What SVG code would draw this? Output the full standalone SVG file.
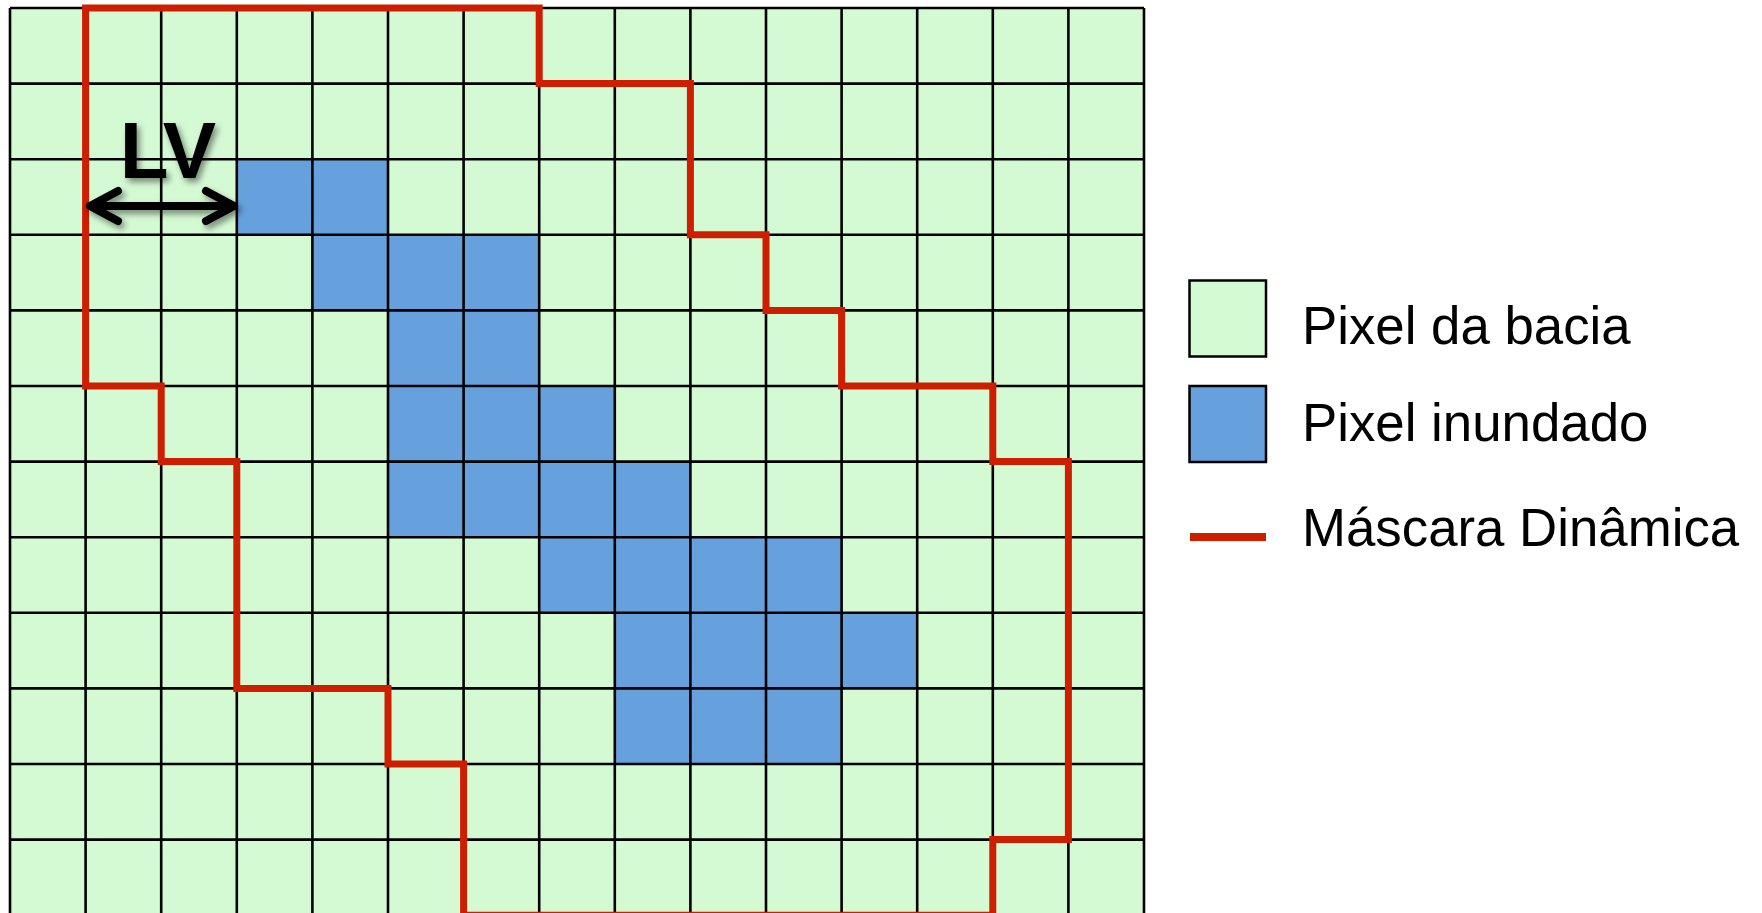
<svg xmlns="http://www.w3.org/2000/svg" width="1762" height="913" viewBox="0 0 1762 913">
  <style>
    .basin { fill: #D4FAD4; }
    .flood { fill: #66A1DD; }
    .gridline { fill: none; stroke: #000; stroke-width: 2.6; }
    .mask { fill: none; stroke: #CD1E00; stroke-width: 7; stroke-linejoin: miter; }
    .legtext { font-family: "Liberation Sans", Arial, sans-serif; font-size: 52.8px; fill: #000; }
    .lv { font-family: "Liberation Sans", Arial, sans-serif; font-weight: bold; font-size: 80px; fill: #000; }
    .arrow { fill: none; stroke: #000; stroke-width: 8; stroke-linecap: round; stroke-linejoin: round; }
    .legbox { stroke: #000; stroke-width: 2.5; }
  </style>
  <defs>
    <filter id="shadow" x="-20%" y="-20%" width="150%" height="160%">
      <feDropShadow dx="3" dy="4" stdDeviation="3" flood-color="#000" flood-opacity="0.45"/>
    </filter>
  </defs>
  <rect width="1762" height="913" fill="#fff"/>

  <g id="grid">
    <rect class="basin" x="10" y="8" width="1134" height="907.2"/>
    <g id="flooded">
      <rect class="flood" x="236.8" y="159.2" width="151.2" height="75.6"/>
      <rect class="flood" x="312.4" y="234.8" width="226.8" height="75.6"/>
      <rect class="flood" x="388" y="310.4" width="151.2" height="75.6"/>
      <rect class="flood" x="388" y="386" width="226.8" height="75.6"/>
      <rect class="flood" x="388" y="461.6" width="302.4" height="75.6"/>
      <rect class="flood" x="539.2" y="537.2" width="302.4" height="75.6"/>
      <rect class="flood" x="614.8" y="612.8" width="302.4" height="75.6"/>
      <rect class="flood" x="614.8" y="688.4" width="226.8" height="75.6"/>
    </g>
    <path class="gridline" d="M10,8V915.2M85.6,8V915.2M161.2,8V915.2M236.8,8V915.2M312.4,8V915.2M388,8V915.2M463.6,8V915.2M539.2,8V915.2M614.8,8V915.2M690.4,8V915.2M766,8V915.2M841.6,8V915.2M917.2,8V915.2M992.8,8V915.2M1068.4,8V915.2M1144,8V915.2
      M10,8H1144M10,83.6H1144M10,159.2H1144M10,234.8H1144M10,310.4H1144M10,386H1144M10,461.6H1144M10,537.2H1144M10,612.8H1144M10,688.4H1144M10,764H1144M10,839.6H1144M10,915.2H1144"/>
  </g>

  <g id="mask">
    <path class="mask" d="M85.6,8H539.2V83.6H690.4V234.8H766V310.4H841.6V386H992.8V461.6H1068.4V839.6H992.8V915.2H463.6V764H388V688.4H236.8V461.6H161.2V386H85.6Z"/>
  </g>

  <g id="lv" filter="url(#shadow)">
    <text class="lv" x="168" y="178" text-anchor="middle">LV</text>
    <path class="arrow" d="M90,206H234M118,191L90,206L118,221M206,191L234,206L206,221"/>
  </g>

  <g id="legend">
    <g id="leg-basin">
      <rect class="basin legbox" x="1189.5" y="280.5" width="76.5" height="76"/>
      <text class="legtext" x="1302" y="344">Pixel da bacia</text>
    </g>
    <g id="leg-flood">
      <rect class="flood legbox" x="1189.5" y="386" width="76.5" height="76"/>
      <text class="legtext" x="1302" y="441">Pixel inundado</text>
    </g>
    <g id="leg-mask">
      <line x1="1190" y1="537" x2="1266" y2="537" stroke="#CD1E00" stroke-width="8"/>
      <text class="legtext" x="1302" y="546">Máscara Dinâmica</text>
    </g>
  </g>
</svg>
